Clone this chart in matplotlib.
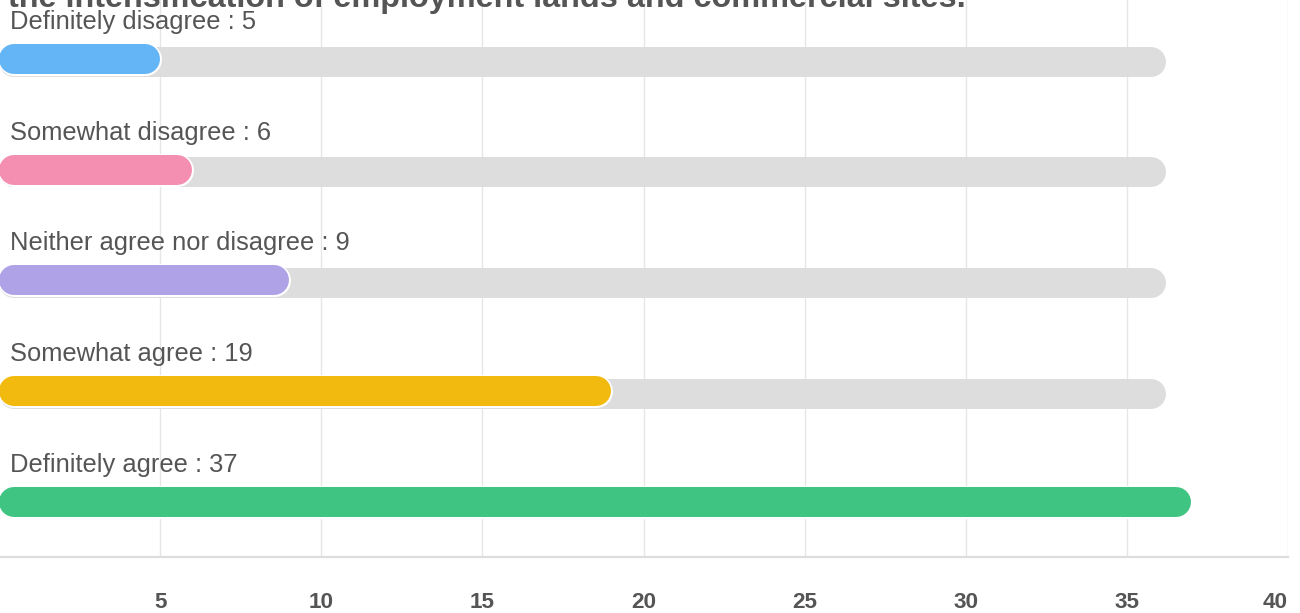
import matplotlib.pyplot as plt
from matplotlib import transforms

# survey answers and counts
answers = ["Definitely disagree", "Somewhat disagree", "Neither agree nor disagree",
           "Somewhat agree", "Definitely agree"]
counts = [5, 6, 9, 19, 37]
colors = ["#64b5f6", "#f48fb1", "#b0a2e6", "#f2b90f", "#40c482"]
tick_values = [5, 10, 15, 20, 25, 30, 35, 40]
title = "the intensification of employment lands and commercial sites."
track_len = 36.2

plt.rcParams['font.family'] = ['Liberation Sans', 'DejaVu Sans']

W, H, DPI = 1300, 613, 100
fig = plt.figure(figsize=(W / DPI, H / DPI), dpi=DPI)
ax = fig.add_axes([-1 / W, 1 - 557 / H, 1289 / W, 557 / H])

ax.set_xlim(0, 40)
ax.set_ylim(4.497, -0.533)

bar_px = 30
px_per_unit = 1289 / 40
r = (bar_px / 2) / px_per_unit
lw = bar_px * 72 / DPI
shadow = transforms.offset_copy(ax.transData, fig, y=-2.5, units='dots')

for i, (name, n, c) in enumerate(zip(answers, counts, colors)):
    # grey track behind each bar
    ax.plot([r, track_len - r], [i, i], color="#dddddd", lw=lw,
            solid_capstyle='round', transform=shadow, zorder=2)
    # white rim + coloured bar
    ax.plot([r, n - r], [i, i], color="white", lw=lw + 2.2,
            solid_capstyle='round', zorder=3)
    ax.plot([r, n - r], [i, i], color=c, lw=lw,
            solid_capstyle='round', zorder=4)
    ax.annotate(f"{name} : {n}", xy=(0, i), xytext=(8, 21.6),
                textcoords='offset points', va='baseline', ha='left',
                fontsize=18.4, color="#555555", zorder=5)

ax.set_xticks(tick_values)
ax.set_xticklabels([str(v) for v in tick_values], fontsize=16.2,
                   fontweight='bold', color="#555555")
ax.get_xticklabels()[-1].set_ha('right')
ax.set_yticks([])
ax.tick_params(axis='x', length=0, pad=25)
ax.grid(axis='x', color="#e6e6e6", lw=1)
ax.set_axisbelow(True)
for s in ["top", "left", "right"]:
    ax.spines[s].set_visible(False)
ax.spines["bottom"].set_color("#dddddd")
ax.spines["bottom"].set_linewidth(1.6)

fig.text(8 / W, 1 - 7 / H, title, fontsize=23.3, fontweight='bold',
         color="#555555", va='baseline', ha='left')

fig.savefig("out.png", dpi=DPI)
